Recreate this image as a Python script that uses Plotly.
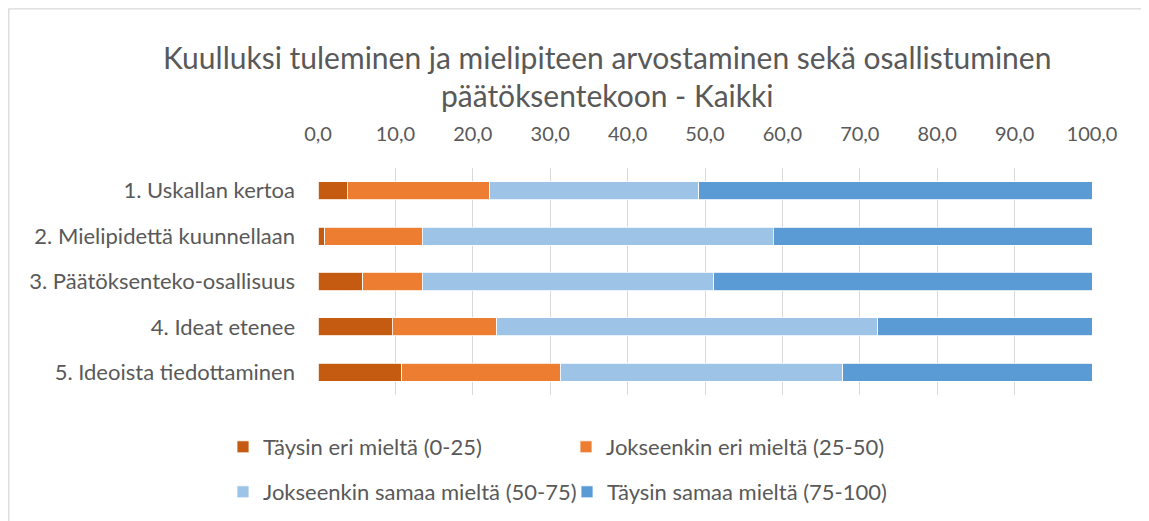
import plotly.graph_objects as go

categories = ["1. Uskallan kertoa", "2. Mielipidettä kuunnellaan", "3. Päätöksenteko-osallisuus",
              "4. Ideat etenee", "5. Ideoista tiedottaminen"]
series_names = ["Täysin eri mieltä (0-25)", "Jokseenkin eri mieltä (25-50)",
                "Jokseenkin samaa mieltä (50-75)", "Täysin samaa mieltä (75-100)"]
taysin_eri = [3.8, 0.9, 5.8, 9.6, 10.8]
jokseenkin_eri = [18.4, 12.6, 7.7, 13.5, 20.5]
jokseenkin_samaa = [27.0, 45.3, 37.6, 49.2, 36.5]
taysin_samaa = [50.8, 41.2, 48.9, 27.7, 32.2]
tick_vals = [0, 10, 20, 30, 40, 50, 60, 70, 80, 90, 100]
title_lines = ["Kuulluksi tuleminen ja mielipiteen arvostaminen sekä osallistuminen",
               "päätöksentekoon - Kaikki"]

colors = ["#C55A11", "#ED7D31", "#9DC3E6", "#5B9BD5"]
values = [taysin_eri, jokseenkin_eri, jokseenkin_samaa, taysin_samaa]
legend_ids = ["legend", "legend2", "legend3", "legend4"]

FONT = "Lato, Calibri, sans-serif"
TXT = "#595959"

# page body has an 8px margin; coordinates below are given in window pixels
OFF = 8
W, H = 1149 - OFF, 521 - OFF
L, R, T, B = 318 - OFF, 1092 - OFF, 168 - OFF, 395 - OFF
PW, PH = R - L, B - T


def px_x(px):
    return (px - OFF - L) / PW


def px_y(py):
    return 1 - (py - OFF - T) / PH


fig = go.Figure()
for name, vals, col, lg in zip(series_names, values, colors, legend_ids):
    fig.add_trace(go.Bar(
        y=categories, x=vals, name=name, orientation="h",
        marker=dict(color=col, line=dict(color="white", width=0.8)),
        legend=lg, showlegend=True, hoverinfo="x+name"))

legend_pos = [(263, 447), (606, 447), (263, 492), (607, 492)]
leg_layout = {}
for lg, (tx, ty) in zip(legend_ids, legend_pos):
    leg_layout[lg] = dict(
        x=px_x(tx - 40), y=px_y(ty), xanchor="left", yanchor="middle",
        orientation="h", bgcolor="rgba(0,0,0,0)", borderwidth=0, visible=True,
        font=dict(family=FONT, size=22, color=TXT))

annotations = []
for line, py in zip(title_lines, [57, 95]):
    annotations.append(dict(
        text=line, xref="paper", yref="paper", x=px_x(606.5), y=px_y(py),
        xanchor="center", yanchor="middle", showarrow=False,
        font=dict(family=FONT, size=30, color=TXT)))

fig.update_layout(
    width=W, height=H,
    margin=dict(l=L, r=W - R, t=T, b=H - B, autoexpand=False),
    barmode="stack", bargap=0.6,
    showlegend=True,
    paper_bgcolor="white", plot_bgcolor="white",
    separators=", ",
    font=dict(family=FONT, size=18, color=TXT),
    annotations=annotations,
    shapes=[dict(type="rect", xref="paper", yref="paper",
                 x0=px_x(OFF + 0.8), x1=px_x(1149 - 0.8), y0=px_y(OFF + 0.8), y1=px_y(540),
                 line=dict(color="#D9D9D9", width=1.3), fillcolor="rgba(0,0,0,0)",
                 layer="below")],
    xaxis=dict(side="top", range=[0, 100], tickvals=tick_vals, tickformat=".1f",
               showgrid=True, gridcolor="#D9D9D9", gridwidth=1.3,
               zeroline=False, showline=False, ticks="",
               ticklabelstandoff=22,
               tickfont=dict(family=FONT, size=20, color=TXT), fixedrange=True),
    yaxis=dict(autorange="reversed", showgrid=False, zeroline=False, showline=False,
               ticks="", ticklabelstandoff=22,
               tickfont=dict(family=FONT, size=22, color=TXT), fixedrange=True),
    **leg_layout,
)

fig.write_html("out.html")
